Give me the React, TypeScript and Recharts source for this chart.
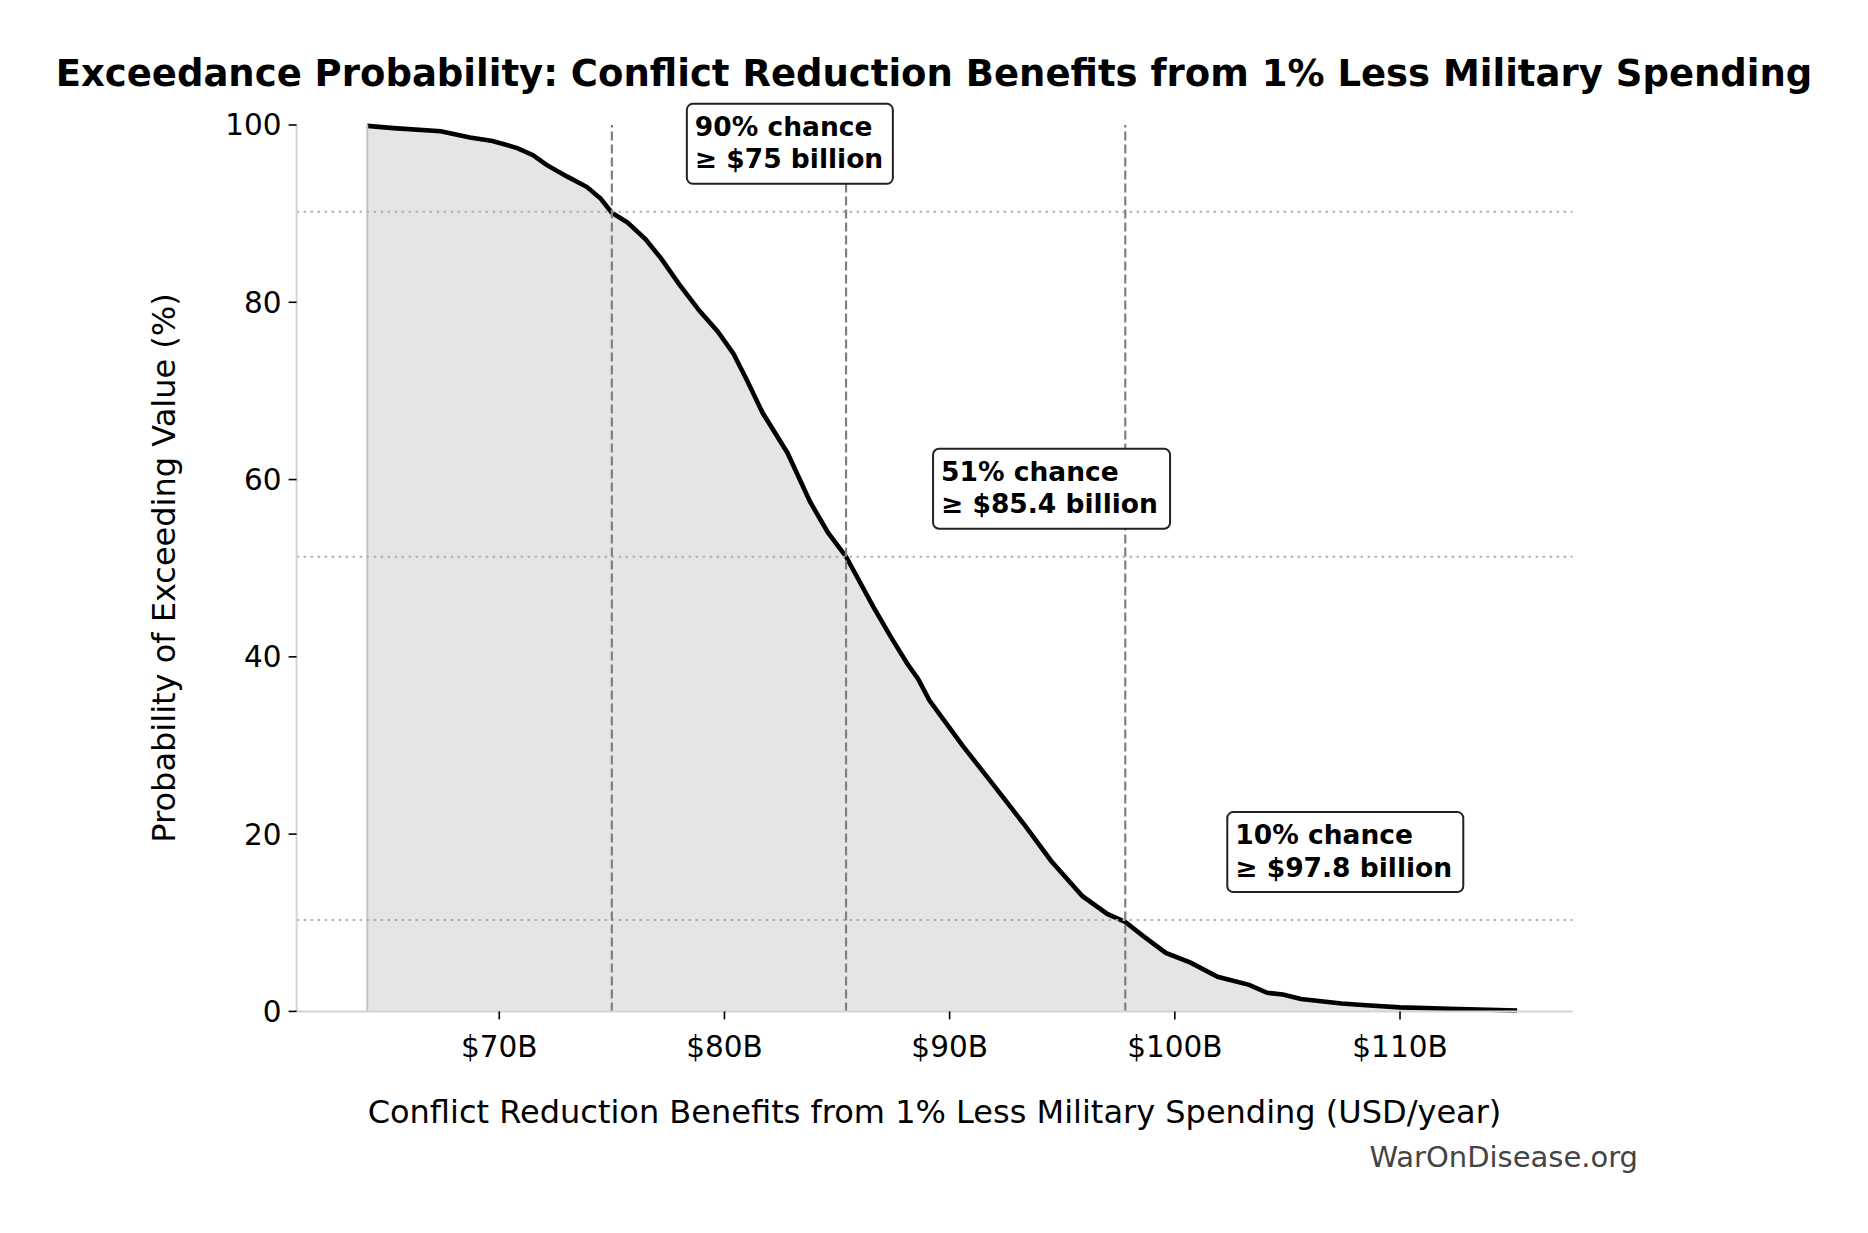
import React from "react";
import {
  ComposedChart,
  Area,
  XAxis,
  YAxis,
  ReferenceLine,
  ReferenceDot,
} from "recharts";

// exceedance curve (x in $B/year, y in % exceeding)
const xBillions = [
  64.14, 65.3, 67.4, 68.7, 69.7, 70.8, 71.5, 72.1, 73.0, 73.9, 74.5, 75.0,
  75.7, 76.5, 77.2, 78.0, 78.9, 79.7, 80.4, 81.0, 81.7, 82.8, 83.8, 84.6,
  85.4, 86.6, 87.4, 88.1, 88.6, 89.1, 90.6, 91.9, 93.4, 94.5, 95.9, 97.0,
  97.8, 98.6, 99.6, 100.7, 101.9, 103.3, 104.1, 104.8, 105.6, 106.3, 107.4,
  108.5, 110.0, 112.2, 115.2,
];
const exceedPct = [
  99.9, 99.65, 99.3, 98.6, 98.2, 97.4, 96.6, 95.5, 94.2, 93.0, 91.7, 90.1,
  89.0, 87.1, 84.9, 82.0, 79.0, 76.7, 74.2, 71.2, 67.5, 63.0, 57.5, 54.0,
  51.3, 45.7, 42.2, 39.3, 37.5, 35.1, 29.9, 25.7, 20.8, 17.0, 13.0, 11.0,
  10.1, 8.5, 6.6, 5.5, 3.9, 3.0, 2.1, 1.9, 1.4, 1.2, 0.9, 0.7, 0.45, 0.3,
  0.1,
];

const xTicks = [70, 80, 90, 100, 110];
const yTicks = [0, 20, 40, 60, 80, 100];

// percentile markers
const markerValues = [75, 85.4, 97.8];
const markerPct = [90.2, 51.3, 10.3];
const markerLines1 = ["90% chance", "51% chance", "10% chance"];
const markerLines2 = ["≥ $75 billion", "≥ $85.4 billion", "≥ $97.8 billion"];

const data = xBillions.map((x, i) => ({ x, p: exceedPct[i] }));

const FONT = "DejaVu Sans";

// box layout relative to the marker point (pixels)
const boxLayout = [
  { dx: 75, w: 206 },
  { dx: 87, w: 237 },
  { dx: 102, w: 236 },
];
const BOX_DY = -108;
const BOX_H = 80;

function AnnotationBox(props: any) {
  const { cx, cy, idx } = props;
  const { dx, w } = boxLayout[idx];
  const left = cx + dx;
  const top = cy + BOX_DY;
  return (
    <g>
      <rect
        x={left}
        y={top}
        width={w}
        height={BOX_H}
        rx={6}
        ry={6}
        fill="#fff"
        stroke="#222"
        strokeWidth={2}
      />
      <text
        x={left + 8}
        y={top + 32}
        fontFamily={FONT}
        fontWeight="bold"
        fontSize={26.5}
        fill="#000"
      >
        {markerLines1[idx]}
      </text>
      <text
        x={left + 8}
        y={top + 64.5}
        fontFamily={FONT}
        fontWeight="bold"
        fontSize={26.5}
        fill="#000"
      >
        {markerLines2[idx]}
      </text>
    </g>
  );
}

export default function App() {
  const tickStyle = { fontFamily: FONT, fontSize: 29.5, fill: "#000" };
  return (
    <div
      style={{
        position: "absolute",
        left: 0,
        top: 0,
        width: 1868,
        height: 1233,
        background: "#fff",
      }}
    >
      <ComposedChart
        width={1868}
        height={1233}
        data={data}
        margin={{ top: 125, right: 295.5, bottom: 161.6, left: 0 }}
      >
        <XAxis
          type="number"
          dataKey="x"
          domain={[61.0, 117.66]}
          allowDataOverflow
          ticks={xTicks}
          tickFormatter={(v) => `$${v}B`}
          tick={tickStyle}
          height={60}
          tickSize={8}
          tickMargin={17}
          axisLine={{ stroke: "#d4d4d4", strokeWidth: 2 }}
          tickLine={{ stroke: "#000", strokeWidth: 1.6 }}
        />
        <YAxis
          type="number"
          domain={[0, 100]}
          ticks={yTicks}
          tick={tickStyle}
          width={296.6}
          tickSize={8}
          tickMargin={7}
          axisLine={{ stroke: "#d4d4d4", strokeWidth: 2 }}
          tickLine={{ stroke: "#000", strokeWidth: 1.6 }}
        />
        <Area
          type="linear"
          dataKey="p"
          stroke="#000"
          strokeWidth={4.6}
          fill="#e5e5e5"
          fillOpacity={1}
          isAnimationActive={false}
          dot={false}
          activeDot={false}
        />
        <ReferenceLine
          x={xBillions[0]}
          stroke="#c4c4c4"
          strokeWidth={2}
          segment={[
            { x: xBillions[0], y: 0 },
            { x: xBillions[0], y: exceedPct[0] },
          ]}
        />
        {markerPct.map((p, i) => (
          <ReferenceLine
            key={"h" + i}
            y={p}
            stroke="#b0b0b0"
            strokeWidth={2}
            strokeDasharray="2.5 4.5"
          />
        ))}
        {markerValues.map((v, i) => (
          <ReferenceLine
            key={"v" + i}
            x={v}
            stroke="#808080"
            strokeWidth={2.2}
            strokeDasharray="9 4"
          />
        ))}
        {markerValues.map((v, i) => (
          <ReferenceDot
            key={"b" + i}
            x={v}
            y={markerPct[i]}
            r={0}
            ifOverflow="visible"
            shape={(props: any) => <AnnotationBox {...props} idx={i} />}
          />
        ))}
      </ComposedChart>
      <svg
        width={1868}
        height={1233}
        style={{ position: "absolute", left: 0, top: 0, pointerEvents: "none" }}
      >
        <text
          x={934}
          y={86}
          textAnchor="middle"
          fontFamily={FONT}
          fontWeight="bold"
          fontSize={37}
          fill="#000"
        >
          Exceedance Probability: Conflict Reduction Benefits from 1% Less Military Spending
        </text>
        <text
          x={934.5}
          y={1123}
          textAnchor="middle"
          fontFamily={FONT}
          fontSize={32}
          fill="#000"
        >
          Conflict Reduction Benefits from 1% Less Military Spending (USD/year)
        </text>
        <text
          x={174.5}
          y={568}
          textAnchor="middle"
          transform="rotate(-90 174.5 568)"
          fontFamily={FONT}
          fontSize={32}
          fill="#000"
        >
          Probability of Exceeding Value (%)
        </text>
        <text
          x={1638}
          y={1167}
          textAnchor="end"
          fontFamily={FONT}
          fontSize={29}
          fill="#444"
        >
          WarOnDisease.org
        </text>
      </svg>
    </div>
  );
}
